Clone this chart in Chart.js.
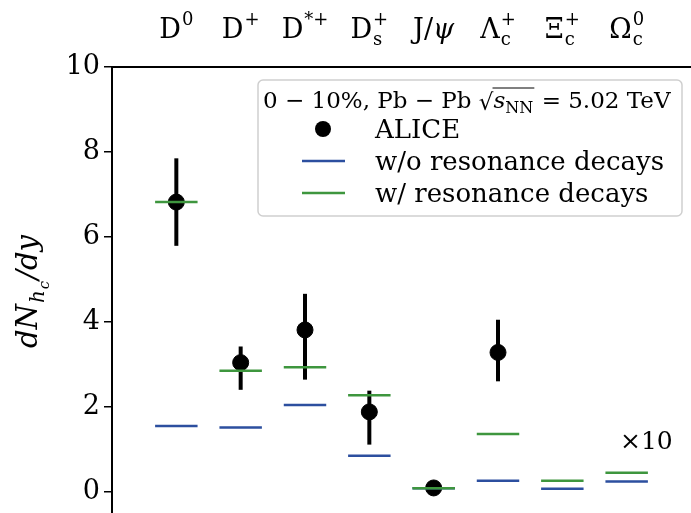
<!DOCTYPE html>
<html>
<head>
<meta charset="utf-8">
<script src="https://cdn.jsdelivr.net/npm/chart.js@4.4.0/dist/chart.umd.min.js"></script>
<style>
  html, body { margin: 0; padding: 0; background: #fff; overflow: hidden; }
  .wrap { width: 691px; height: 513px; }
</style>
</head>
<body>
<div class="wrap"><canvas class="myChart"></canvas></div>
<script>
// hadron labels (base, superscript, subscript)
const catBase = ["D", "D", "D", "D", "J/ψ", "Λ", "Ξ", "Ω"];
const catSup = ["0", "+", "*+", "+", "", "+", "+", "0"];
const catSub = ["", "", "", "s", "", "c", "c", "c"];

// ALICE data with error bars (null = no measurement)
const aliceValues = [6.82, 3.04, 3.81, 1.88, 0.09, 3.28, null, null];
const aliceLow = [5.79, 2.40, 2.64, 1.11, 0.09, 2.60, null, null];
const aliceHigh = [7.85, 3.42, 4.66, 2.38, 0.09, 4.05, null, null];

// model values
const noResValues = [1.55, 1.51, 2.04, 0.85, 0.08, 0.26, 0.07, 0.24];
const withResValues = [6.82, 2.85, 2.93, 2.27, 0.08, 1.36, 0.26, 0.45];

const yTicks = [0, 2, 4, 6, 8, 10];

const FONT = "'DejaVu Serif', 'Liberation Serif', serif";
const BLUE = "#2c4f9f";
const GREEN = "#3e963e";

function segments(values) {
  const pts = [];
  values.forEach((v, i) => {
    pts.push({ x: i - 0.33, y: v });
    pts.push({ x: i + 0.33, y: v });
    pts.push({ x: i + 0.5, y: null });
  });
  return pts;
}

function drawRich(ctx, cx, y, base, sup, sub, size) {
  const small = Math.round(size * 0.66);
  // psi is set in italics like in the original
  const pieces = base.split(/(ψ)/).filter(Boolean).map(t => ({
    t, f: (t === "ψ" ? "italic " : "") + size + "px " + FONT
  }));
  let wb = 0;
  pieces.forEach(p => { ctx.font = p.f; wb += ctx.measureText(p.t).width; });
  ctx.font = small + "px " + FONT;
  const ws = sup ? ctx.measureText(sup).width : 0;
  const wu = sub ? ctx.measureText(sub).width : 0;
  const total = wb + Math.max(ws, wu) + (sup || sub ? 1 : 0);
  let x = cx - total / 2;
  ctx.textAlign = "left";
  pieces.forEach(p => {
    ctx.font = p.f;
    ctx.fillText(p.t, x, y);
    x += ctx.measureText(p.t).width;
  });
  x += 1;
  ctx.font = small + "px " + FONT;
  if (sup) ctx.fillText(sup, x, y - size * 0.5);
  if (sub) ctx.fillText(sub, x, y + size * 0.25);
}

const decorPlugin = {
  id: "decor",
  beforeDatasetsDraw(chart) {
    const ctx = chart.ctx;
    const xs = chart.scales.x, ys = chart.scales.y;
    ctx.save();
    ctx.strokeStyle = "#000";
    ctx.lineWidth = 4;
    aliceValues.forEach((v, i) => {
      if (v === null || aliceLow[i] === aliceHigh[i]) return;
      const px = xs.getPixelForValue(i);
      ctx.beginPath();
      ctx.moveTo(px, ys.getPixelForValue(aliceLow[i]));
      ctx.lineTo(px, ys.getPixelForValue(aliceHigh[i]));
      ctx.stroke();
    });
    ctx.restore();
  },
  afterDraw(chart) {
    const ctx = chart.ctx;
    const a = chart.chartArea;
    const xs = chart.scales.x;
    ctx.save();
    // top spine
    ctx.strokeStyle = "#000";
    ctx.lineWidth = 2;
    ctx.beginPath();
    ctx.moveTo(a.left, a.top);
    ctx.lineTo(a.right, a.top);
    ctx.stroke();

    // hadron names on top
    ctx.fillStyle = "#000";
    ctx.textBaseline = "alphabetic";
    catBase.forEach((b, i) => {
      drawRich(ctx, xs.getPixelForValue(i), 38, b, catSup[i], catSub[i], 27);
    });

    // y title dN_{h_c}/dy
    ctx.save();
    ctx.translate(37, 291);
    ctx.rotate(-Math.PI / 2);
    const s = 29;
    const parts = [
      { t: "dN", f: "italic " + s + "px " + FONT, dy: 0 },
      { t: "h", f: "italic " + Math.round(s * 0.7) + "px " + FONT, dy: s * 0.25 },
      { t: "c", f: "italic " + Math.round(s * 0.5) + "px " + FONT, dy: s * 0.4 },
      { t: "/dy", f: "italic " + s + "px " + FONT, dy: 0 }
    ];
    let w = 0;
    parts.forEach(p => { ctx.font = p.f; w += ctx.measureText(p.t).width + 1; });
    let x = -w / 2;
    ctx.textAlign = "left";
    parts.forEach(p => {
      ctx.font = p.f;
      ctx.fillText(p.t, x, p.dy);
      x += ctx.measureText(p.t).width + 1;
    });
    ctx.restore();

    // legend box
    ctx.beginPath();
    ctx.roundRect(258, 80, 424, 136, 5);
    ctx.fillStyle = "rgba(255,255,255,0.85)";
    ctx.fill();
    ctx.strokeStyle = "#cfcfcf";
    ctx.lineWidth = 1.5;
    ctx.stroke();

    // legend title
    ctx.fillStyle = "#000";
    const ls = 23;
    let tx = 263;
    const ty = 108;
    ctx.font = ls + "px " + FONT;
    const t1 = "0 − 10%, Pb − Pb ";
    ctx.fillText(t1, tx, ty);
    tx += ctx.measureText(t1).width;
    ctx.fillText("√", tx, ty + 2);
    tx += ctx.measureText("√").width;
    const rootStart = tx;
    ctx.font = "italic " + ls + "px " + FONT;
    ctx.fillText("s", tx, ty);
    tx += ctx.measureText("s").width;
    ctx.font = Math.round(ls * 0.7) + "px " + FONT;
    ctx.fillText("NN", tx, ty + 5);
    tx += ctx.measureText("NN").width + 1;
    ctx.strokeStyle = "#000";
    ctx.lineWidth = 1;
    ctx.beginPath();
    ctx.moveTo(rootStart - 1, ty - 20);
    ctx.lineTo(tx, ty - 20);
    ctx.stroke();
    ctx.font = ls + "px " + FONT;
    ctx.fillText(" = 5.02 TeV", tx, ty);

    // legend entries
    ctx.font = "26px " + FONT;
    ctx.beginPath();
    ctx.arc(323, 129, 8, 0, Math.PI * 2);
    ctx.fill();
    ctx.fillText("ALICE", 375, 138);
    ctx.lineWidth = 2.5;
    ctx.strokeStyle = BLUE;
    ctx.beginPath();
    ctx.moveTo(302, 161);
    ctx.lineTo(345, 161);
    ctx.stroke();
    ctx.fillText("w/o resonance decays", 375, 170);
    ctx.strokeStyle = GREEN;
    ctx.beginPath();
    ctx.moveTo(302, 193);
    ctx.lineTo(345, 193);
    ctx.stroke();
    ctx.fillText("w/ resonance decays", 375, 202);

    // x10 note for the last two hadrons
    ctx.font = "25px " + FONT;
    ctx.fillText("×10", 620, 449);
    ctx.restore();
  }
};

const ctx = document.querySelector(".myChart").getContext("2d");
const myChart = new Chart(ctx, {
  type: "scatter",
  data: {
    datasets: [
      {
        label: "w/ resonance decays",
        data: segments(withResValues),
        showLine: true,
        spanGaps: false,
        borderColor: GREEN,
        borderWidth: 2.5,
        pointRadius: 0,
      },
      {
        label: "w/o resonance decays",
        data: segments(noResValues),
        showLine: true,
        spanGaps: false,
        borderColor: BLUE,
        borderWidth: 2.5,
        pointRadius: 0,
      },
      {
        label: "ALICE",
        data: aliceValues.map((v, i) => ({ x: i, y: v })).filter(p => p.y !== null),
        backgroundColor: "#000",
        borderColor: "#000",
        pointRadius: 8,
      },
    ],
  },
  options: {
    responsive: true,
    maintainAspectRatio: false,
    animation: false,
    layout: { autoPadding: false, padding: { top: 67, right: 0, bottom: 0, left: 0 } },
    plugins: { legend: { display: false }, tooltip: { enabled: false } },
    scales: {
      x: { type: "linear", min: -1, max: 8, display: false },
      y: {
        min: -0.5,
        max: 10,
        afterBuildTicks: (scale) => { scale.ticks = yTicks.map(v => ({ value: v })); },
        afterFit: (scale) => {
          scale.width = 112;
          scale.paddingTop = 0;
          scale.paddingBottom = 0;
        },
        ticks: { color: "#000", padding: 4, font: { family: FONT, size: 27 } },
        grid: { drawOnChartArea: false, drawTicks: true, tickLength: 8, color: "#000", lineWidth: 1.5 },
        border: { display: true, color: "#000", width: 2 },
      },
    },
  },
  plugins: [decorPlugin],
});
</script>
</body>
</html>
